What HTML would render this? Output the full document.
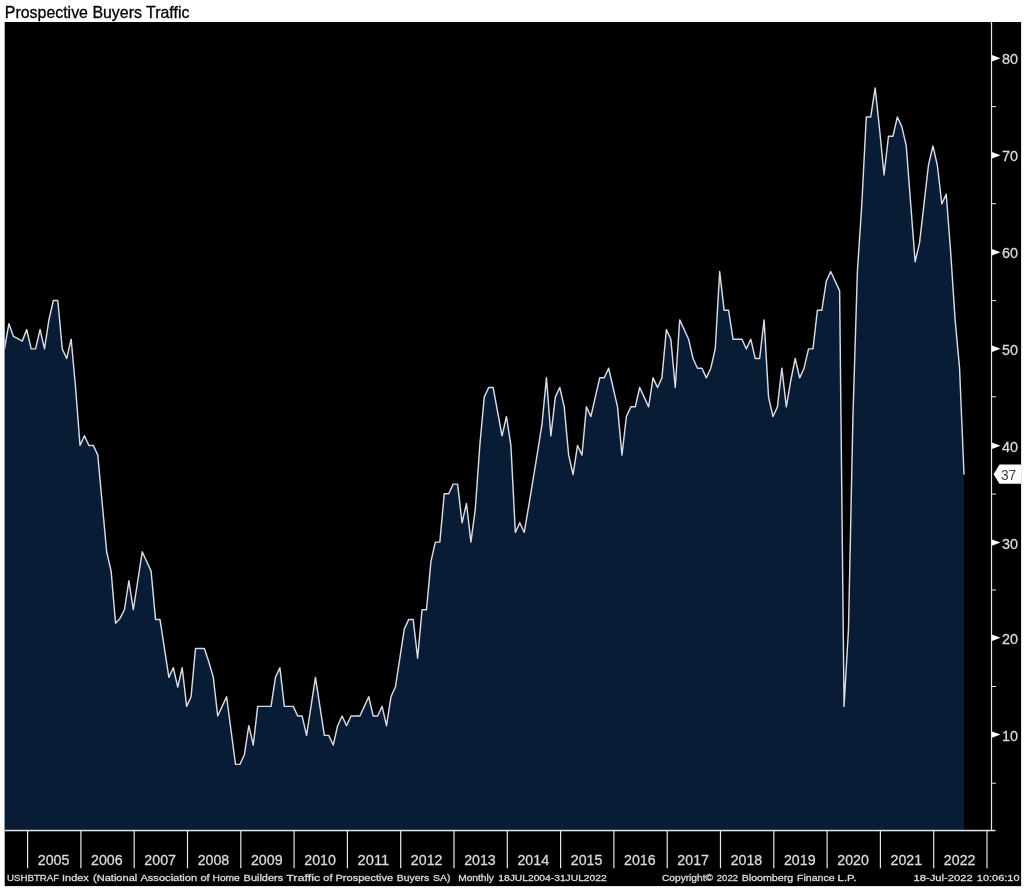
<!DOCTYPE html>
<html lang="en">
<head>
<meta charset="utf-8">
<title>Prospective Buyers Traffic</title>
<style>
html,body{margin:0;padding:0;background:#ffffff;}
body{width:1024px;height:888px;overflow:hidden;position:relative;}
svg text{font-family:"Liberation Sans","DejaVu Sans",sans-serif;}
svg{will-change:transform;}
</style>
</head>
<body>
<svg width="1024" height="888" viewBox="0 0 1024 888" style="display:block;position:absolute;left:0;top:0">
<rect x="0" y="0" width="1024" height="888" fill="#ffffff"/>
<rect x="4.7" y="22" width="1016.4" height="864.1" fill="#000000"/>
<clipPath id="plot"><rect x="4.7" y="22" width="990" height="810"/></clipPath>
<g clip-path="url(#plot)">
<path d="M4.50,348.85 L8.94,323.73 L13.38,336.29 L17.83,338.70 L22.27,341.12 L26.71,329.52 L31.15,348.85 L35.59,348.85 L40.04,329.52 L44.48,348.85 L48.92,319.86 L53.36,300.53 L57.81,300.53 L62.25,348.85 L66.69,358.51 L71.13,339.19 L75.57,387.50 L80.02,445.48 L84.46,435.82 L88.90,445.48 L93.34,445.48 L97.78,455.14 L102.23,503.46 L106.67,551.77 L111.11,571.10 L115.55,623.28 L120.00,618.45 L124.44,609.75 L128.88,580.76 L133.32,609.75 L137.76,580.76 L142.21,551.77 L146.65,561.44 L151.09,571.10 L155.53,619.41 L159.97,619.41 L164.42,648.40 L168.86,677.39 L173.30,667.73 L177.74,687.06 L182.19,667.73 L186.63,706.38 L191.07,696.72 L195.51,648.40 L199.95,648.40 L204.40,648.40 L208.84,661.93 L213.28,677.39 L217.72,716.04 L222.16,706.38 L226.61,696.72 L231.05,730.54 L235.49,764.36 L239.93,764.36 L244.38,754.70 L248.82,725.71 L253.26,745.03 L257.70,706.38 L262.14,706.38 L266.59,706.38 L271.03,706.38 L275.47,677.39 L279.91,667.73 L284.35,706.38 L288.80,706.38 L293.24,706.38 L297.68,716.04 L302.12,716.04 L306.56,735.37 L311.01,706.38 L315.45,677.39 L319.89,706.38 L324.33,735.37 L328.78,735.37 L333.22,745.03 L337.66,725.71 L342.10,716.04 L346.54,725.71 L350.99,716.04 L355.43,716.04 L359.87,716.04 L364.31,706.38 L368.75,696.72 L373.20,716.04 L377.64,716.04 L382.08,706.38 L386.52,725.71 L390.97,696.72 L395.41,687.06 L399.85,658.07 L404.29,629.08 L408.73,619.41 L413.18,619.41 L417.62,658.07 L422.06,609.75 L426.50,609.75 L430.94,561.44 L435.39,542.11 L439.83,542.11 L444.27,493.80 L448.71,493.80 L453.16,484.13 L457.60,484.13 L462.04,522.78 L466.48,503.46 L470.92,542.11 L475.37,508.29 L479.81,445.48 L484.25,397.16 L488.69,387.50 L493.13,387.50 L497.58,411.66 L502.02,435.82 L506.46,416.49 L510.90,445.48 L515.34,532.45 L519.79,522.78 L524.23,532.45 L528.67,506.36 L533.11,479.30 L537.56,452.24 L542.00,424.22 L546.44,377.84 L550.88,435.82 L555.32,397.16 L559.77,387.50 L564.21,406.83 L568.65,455.14 L573.09,474.47 L577.53,445.48 L581.98,455.14 L586.42,406.83 L590.86,416.49 L595.30,397.16 L599.75,377.84 L604.19,377.84 L608.63,368.18 L613.07,387.50 L617.51,406.83 L621.96,455.14 L626.40,416.49 L630.84,406.83 L635.28,406.83 L639.72,387.50 L644.17,397.16 L648.61,406.83 L653.05,377.84 L657.49,387.50 L661.94,377.84 L666.38,329.52 L670.82,339.19 L675.26,387.50 L679.70,319.86 L684.15,329.52 L688.59,339.19 L693.03,358.51 L697.47,368.18 L701.91,368.18 L706.36,377.84 L710.80,368.18 L715.24,348.85 L719.68,271.55 L724.12,310.20 L728.57,310.20 L733.01,339.19 L737.45,339.19 L741.89,339.19 L746.34,348.85 L750.78,339.19 L755.22,358.51 L759.66,358.51 L764.10,319.86 L768.55,397.16 L772.99,416.49 L777.43,406.83 L781.87,368.18 L786.31,406.83 L790.76,380.74 L795.20,358.51 L799.64,377.84 L804.08,368.18 L808.53,348.85 L812.97,348.85 L817.41,310.20 L821.85,310.20 L826.29,281.21 L830.74,271.55 L835.18,281.21 L839.62,290.87 L844.06,706.38 L848.50,629.08 L852.95,416.49 L857.39,271.55 L861.83,203.90 L866.27,116.94 L870.72,116.94 L875.16,87.95 L879.60,129.50 L884.04,174.92 L888.48,136.26 L892.93,136.26 L897.37,116.94 L901.81,126.60 L906.25,145.93 L910.69,203.90 L915.14,261.88 L919.58,242.56 L924.02,203.90 L928.46,165.25 L932.91,145.93 L937.35,165.25 L941.79,203.90 L946.23,194.24 L950.67,252.22 L955.12,319.86 L959.56,368.18 L964.00,474.47 L964.00,830.5 L4.50,830.5 Z" fill="#091c35" stroke="none"/>
<path d="M4.50,348.85 L8.94,323.73 L13.38,336.29 L17.83,338.70 L22.27,341.12 L26.71,329.52 L31.15,348.85 L35.59,348.85 L40.04,329.52 L44.48,348.85 L48.92,319.86 L53.36,300.53 L57.81,300.53 L62.25,348.85 L66.69,358.51 L71.13,339.19 L75.57,387.50 L80.02,445.48 L84.46,435.82 L88.90,445.48 L93.34,445.48 L97.78,455.14 L102.23,503.46 L106.67,551.77 L111.11,571.10 L115.55,623.28 L120.00,618.45 L124.44,609.75 L128.88,580.76 L133.32,609.75 L137.76,580.76 L142.21,551.77 L146.65,561.44 L151.09,571.10 L155.53,619.41 L159.97,619.41 L164.42,648.40 L168.86,677.39 L173.30,667.73 L177.74,687.06 L182.19,667.73 L186.63,706.38 L191.07,696.72 L195.51,648.40 L199.95,648.40 L204.40,648.40 L208.84,661.93 L213.28,677.39 L217.72,716.04 L222.16,706.38 L226.61,696.72 L231.05,730.54 L235.49,764.36 L239.93,764.36 L244.38,754.70 L248.82,725.71 L253.26,745.03 L257.70,706.38 L262.14,706.38 L266.59,706.38 L271.03,706.38 L275.47,677.39 L279.91,667.73 L284.35,706.38 L288.80,706.38 L293.24,706.38 L297.68,716.04 L302.12,716.04 L306.56,735.37 L311.01,706.38 L315.45,677.39 L319.89,706.38 L324.33,735.37 L328.78,735.37 L333.22,745.03 L337.66,725.71 L342.10,716.04 L346.54,725.71 L350.99,716.04 L355.43,716.04 L359.87,716.04 L364.31,706.38 L368.75,696.72 L373.20,716.04 L377.64,716.04 L382.08,706.38 L386.52,725.71 L390.97,696.72 L395.41,687.06 L399.85,658.07 L404.29,629.08 L408.73,619.41 L413.18,619.41 L417.62,658.07 L422.06,609.75 L426.50,609.75 L430.94,561.44 L435.39,542.11 L439.83,542.11 L444.27,493.80 L448.71,493.80 L453.16,484.13 L457.60,484.13 L462.04,522.78 L466.48,503.46 L470.92,542.11 L475.37,508.29 L479.81,445.48 L484.25,397.16 L488.69,387.50 L493.13,387.50 L497.58,411.66 L502.02,435.82 L506.46,416.49 L510.90,445.48 L515.34,532.45 L519.79,522.78 L524.23,532.45 L528.67,506.36 L533.11,479.30 L537.56,452.24 L542.00,424.22 L546.44,377.84 L550.88,435.82 L555.32,397.16 L559.77,387.50 L564.21,406.83 L568.65,455.14 L573.09,474.47 L577.53,445.48 L581.98,455.14 L586.42,406.83 L590.86,416.49 L595.30,397.16 L599.75,377.84 L604.19,377.84 L608.63,368.18 L613.07,387.50 L617.51,406.83 L621.96,455.14 L626.40,416.49 L630.84,406.83 L635.28,406.83 L639.72,387.50 L644.17,397.16 L648.61,406.83 L653.05,377.84 L657.49,387.50 L661.94,377.84 L666.38,329.52 L670.82,339.19 L675.26,387.50 L679.70,319.86 L684.15,329.52 L688.59,339.19 L693.03,358.51 L697.47,368.18 L701.91,368.18 L706.36,377.84 L710.80,368.18 L715.24,348.85 L719.68,271.55 L724.12,310.20 L728.57,310.20 L733.01,339.19 L737.45,339.19 L741.89,339.19 L746.34,348.85 L750.78,339.19 L755.22,358.51 L759.66,358.51 L764.10,319.86 L768.55,397.16 L772.99,416.49 L777.43,406.83 L781.87,368.18 L786.31,406.83 L790.76,380.74 L795.20,358.51 L799.64,377.84 L804.08,368.18 L808.53,348.85 L812.97,348.85 L817.41,310.20 L821.85,310.20 L826.29,281.21 L830.74,271.55 L835.18,281.21 L839.62,290.87 L844.06,706.38 L848.50,629.08 L852.95,416.49 L857.39,271.55 L861.83,203.90 L866.27,116.94 L870.72,116.94 L875.16,87.95 L879.60,129.50 L884.04,174.92 L888.48,136.26 L892.93,136.26 L897.37,116.94 L901.81,126.60 L906.25,145.93 L910.69,203.90 L915.14,261.88 L919.58,242.56 L924.02,203.90 L928.46,165.25 L932.91,145.93 L937.35,165.25 L941.79,203.90 L946.23,194.24 L950.67,252.22 L955.12,319.86 L959.56,368.18 L964.00,474.47" fill="none" stroke="#d6dae3" stroke-width="1.45" stroke-linejoin="round" stroke-linecap="butt"/>
</g>
<rect x="4.7" y="829.8" width="990.8" height="1.5" fill="#e6e6e6"/>
<rect x="990.9" y="22" width="1.2" height="809" fill="#e6e6e6"/>
<rect x="992" y="782.70" width="4" height="1" fill="#e6e6e6"/>
<path d="M992,731.40 L1000.5,734.60 L992,737.80 Z" fill="#ffffff"/>
<text x="1002" y="740.50" font-size="15" fill="#dadadd" stroke="#dadadd" stroke-width="0.3" textLength="16" lengthAdjust="spacingAndGlyphs">10</text>
<rect x="992" y="686.00" width="4" height="1" fill="#e6e6e6"/>
<path d="M992,634.60 L1000.5,637.80 L992,641.00 Z" fill="#ffffff"/>
<text x="1002" y="643.70" font-size="15" fill="#dadadd" stroke="#dadadd" stroke-width="0.3" textLength="16" lengthAdjust="spacingAndGlyphs">20</text>
<rect x="992" y="589.50" width="4" height="1" fill="#e6e6e6"/>
<path d="M992,539.40 L1000.5,542.60 L992,545.80 Z" fill="#ffffff"/>
<text x="1002" y="548.50" font-size="15" fill="#dadadd" stroke="#dadadd" stroke-width="0.3" textLength="16" lengthAdjust="spacingAndGlyphs">30</text>
<rect x="992" y="493.60" width="4" height="1" fill="#e6e6e6"/>
<path d="M992,442.60 L1000.5,445.80 L992,449.00 Z" fill="#ffffff"/>
<text x="1002" y="451.70" font-size="15" fill="#dadadd" stroke="#dadadd" stroke-width="0.3" textLength="16" lengthAdjust="spacingAndGlyphs">40</text>
<rect x="992" y="396.30" width="4" height="1" fill="#e6e6e6"/>
<path d="M992,345.55 L1000.5,348.75 L992,351.95 Z" fill="#ffffff"/>
<text x="1002" y="354.65" font-size="15" fill="#dadadd" stroke="#dadadd" stroke-width="0.3" textLength="16" lengthAdjust="spacingAndGlyphs">50</text>
<rect x="992" y="300.10" width="4" height="1" fill="#e6e6e6"/>
<path d="M992,249.10 L1000.5,252.30 L992,255.50 Z" fill="#ffffff"/>
<text x="1002" y="258.20" font-size="15" fill="#dadadd" stroke="#dadadd" stroke-width="0.3" textLength="16" lengthAdjust="spacingAndGlyphs">60</text>
<rect x="992" y="203.20" width="4" height="1" fill="#e6e6e6"/>
<path d="M992,152.10 L1000.5,155.30 L992,158.50 Z" fill="#ffffff"/>
<text x="1002" y="161.20" font-size="15" fill="#dadadd" stroke="#dadadd" stroke-width="0.3" textLength="16" lengthAdjust="spacingAndGlyphs">70</text>
<rect x="992" y="106.10" width="4" height="1" fill="#e6e6e6"/>
<path d="M992,55.10 L1000.5,58.30 L992,61.50 Z" fill="#ffffff"/>
<text x="1002" y="64.20" font-size="15" fill="#dadadd" stroke="#dadadd" stroke-width="0.3" textLength="16" lengthAdjust="spacingAndGlyphs">80</text>
<rect x="27.00" y="831" width="1.2" height="37.3" fill="#e6e6e6"/>
<text x="37.75" y="865.3" font-size="14.9" fill="#dadadd" stroke="#dadadd" stroke-width="0.3" textLength="31.6" lengthAdjust="spacingAndGlyphs">2005</text>
<rect x="80.30" y="831" width="1.2" height="37.3" fill="#e6e6e6"/>
<text x="91.05" y="865.3" font-size="14.9" fill="#dadadd" stroke="#dadadd" stroke-width="0.3" textLength="31.6" lengthAdjust="spacingAndGlyphs">2006</text>
<rect x="133.60" y="831" width="1.2" height="37.3" fill="#e6e6e6"/>
<text x="144.35" y="865.3" font-size="14.9" fill="#dadadd" stroke="#dadadd" stroke-width="0.3" textLength="31.6" lengthAdjust="spacingAndGlyphs">2007</text>
<rect x="186.90" y="831" width="1.2" height="37.3" fill="#e6e6e6"/>
<text x="197.65" y="865.3" font-size="14.9" fill="#dadadd" stroke="#dadadd" stroke-width="0.3" textLength="31.6" lengthAdjust="spacingAndGlyphs">2008</text>
<rect x="240.20" y="831" width="1.2" height="37.3" fill="#e6e6e6"/>
<text x="250.95" y="865.3" font-size="14.9" fill="#dadadd" stroke="#dadadd" stroke-width="0.3" textLength="31.6" lengthAdjust="spacingAndGlyphs">2009</text>
<rect x="293.50" y="831" width="1.2" height="37.3" fill="#e6e6e6"/>
<text x="304.25" y="865.3" font-size="14.9" fill="#dadadd" stroke="#dadadd" stroke-width="0.3" textLength="31.6" lengthAdjust="spacingAndGlyphs">2010</text>
<rect x="346.80" y="831" width="1.2" height="37.3" fill="#e6e6e6"/>
<text x="357.55" y="865.3" font-size="14.9" fill="#dadadd" stroke="#dadadd" stroke-width="0.3" textLength="31.6" lengthAdjust="spacingAndGlyphs">2011</text>
<rect x="400.10" y="831" width="1.2" height="37.3" fill="#e6e6e6"/>
<text x="410.85" y="865.3" font-size="14.9" fill="#dadadd" stroke="#dadadd" stroke-width="0.3" textLength="31.6" lengthAdjust="spacingAndGlyphs">2012</text>
<rect x="453.40" y="831" width="1.2" height="37.3" fill="#e6e6e6"/>
<text x="464.15" y="865.3" font-size="14.9" fill="#dadadd" stroke="#dadadd" stroke-width="0.3" textLength="31.6" lengthAdjust="spacingAndGlyphs">2013</text>
<rect x="506.70" y="831" width="1.2" height="37.3" fill="#e6e6e6"/>
<text x="517.45" y="865.3" font-size="14.9" fill="#dadadd" stroke="#dadadd" stroke-width="0.3" textLength="31.6" lengthAdjust="spacingAndGlyphs">2014</text>
<rect x="560.00" y="831" width="1.2" height="37.3" fill="#e6e6e6"/>
<text x="570.75" y="865.3" font-size="14.9" fill="#dadadd" stroke="#dadadd" stroke-width="0.3" textLength="31.6" lengthAdjust="spacingAndGlyphs">2015</text>
<rect x="613.30" y="831" width="1.2" height="37.3" fill="#e6e6e6"/>
<text x="624.05" y="865.3" font-size="14.9" fill="#dadadd" stroke="#dadadd" stroke-width="0.3" textLength="31.6" lengthAdjust="spacingAndGlyphs">2016</text>
<rect x="666.60" y="831" width="1.2" height="37.3" fill="#e6e6e6"/>
<text x="677.35" y="865.3" font-size="14.9" fill="#dadadd" stroke="#dadadd" stroke-width="0.3" textLength="31.6" lengthAdjust="spacingAndGlyphs">2017</text>
<rect x="719.90" y="831" width="1.2" height="37.3" fill="#e6e6e6"/>
<text x="730.65" y="865.3" font-size="14.9" fill="#dadadd" stroke="#dadadd" stroke-width="0.3" textLength="31.6" lengthAdjust="spacingAndGlyphs">2018</text>
<rect x="773.20" y="831" width="1.2" height="37.3" fill="#e6e6e6"/>
<text x="783.95" y="865.3" font-size="14.9" fill="#dadadd" stroke="#dadadd" stroke-width="0.3" textLength="31.6" lengthAdjust="spacingAndGlyphs">2019</text>
<rect x="826.50" y="831" width="1.2" height="37.3" fill="#e6e6e6"/>
<text x="837.25" y="865.3" font-size="14.9" fill="#dadadd" stroke="#dadadd" stroke-width="0.3" textLength="31.6" lengthAdjust="spacingAndGlyphs">2020</text>
<rect x="879.80" y="831" width="1.2" height="37.3" fill="#e6e6e6"/>
<text x="890.55" y="865.3" font-size="14.9" fill="#dadadd" stroke="#dadadd" stroke-width="0.3" textLength="31.6" lengthAdjust="spacingAndGlyphs">2021</text>
<rect x="933.10" y="831" width="1.2" height="37.3" fill="#e6e6e6"/>
<text x="943.85" y="865.3" font-size="14.9" fill="#dadadd" stroke="#dadadd" stroke-width="0.3" textLength="31.6" lengthAdjust="spacingAndGlyphs">2022</text>
<rect x="986.40" y="831" width="1.2" height="37.3" fill="#e6e6e6"/>
<path d="M993.5,474.17 L999.5,464.47 L1021,464.47 L1021,483.87 L999.5,483.87 Z" fill="#ffffff"/>
<text x="1001.0" y="479.77" font-size="15.4" fill="#3a3a3a" textLength="15.2" lengthAdjust="spacingAndGlyphs">37</text>
<g font-size="9.7" fill="#dcdcdc" stroke="#dcdcdc" stroke-width="0.3">
<text x="7.0" y="881.3" textLength="52.2" lengthAdjust="spacingAndGlyphs">USHBTRAF</text>
<text x="62.1" y="881.3" textLength="26.5" lengthAdjust="spacingAndGlyphs">Index</text>
<text x="93.0" y="881.3" textLength="44.3" lengthAdjust="spacingAndGlyphs">(National</text>
<text x="140.4" y="881.3" textLength="56.8" lengthAdjust="spacingAndGlyphs">Association</text>
<text x="200.5" y="881.3" textLength="9.2" lengthAdjust="spacingAndGlyphs">of</text>
<text x="212.5" y="881.3" textLength="27.3" lengthAdjust="spacingAndGlyphs">Home</text>
<text x="243.6" y="881.3" textLength="39.6" lengthAdjust="spacingAndGlyphs">Builders</text>
<text x="286.2" y="881.3" textLength="34.0" lengthAdjust="spacingAndGlyphs">Traffic</text>
<text x="323.3" y="881.3" textLength="9.2" lengthAdjust="spacingAndGlyphs">of</text>
<text x="335.5" y="881.3" textLength="57.6" lengthAdjust="spacingAndGlyphs">Prospective</text>
<text x="396.8" y="881.3" textLength="32.3" lengthAdjust="spacingAndGlyphs">Buyers</text>
<text x="432.9" y="881.3" textLength="17.5" lengthAdjust="spacingAndGlyphs">SA)</text>
<text x="458.2" y="881.3" textLength="35.7" lengthAdjust="spacingAndGlyphs">Monthly</text>
<text x="498.3" y="881.3" textLength="108.4" lengthAdjust="spacingAndGlyphs">18JUL2004-31JUL2022</text>
<text x="662.0" y="881.3" textLength="51.0" lengthAdjust="spacingAndGlyphs">Copyright©</text>
<text x="716.7" y="881.3" textLength="21.4" lengthAdjust="spacingAndGlyphs">2022</text>
<text x="741.7" y="881.3" textLength="51.5" lengthAdjust="spacingAndGlyphs">Bloomberg</text>
<text x="797.0" y="881.3" textLength="37.7" lengthAdjust="spacingAndGlyphs">Finance</text>
<text x="837.6" y="881.3" textLength="18.8" lengthAdjust="spacingAndGlyphs">L.P.</text>
<text x="913.6" y="881.3" textLength="59.1" lengthAdjust="spacingAndGlyphs">18-Jul-2022</text>
<text x="976.8" y="881.3" textLength="42.7" lengthAdjust="spacingAndGlyphs">10:06:10</text>
</g>
<text x="4.8" y="17.9" font-size="16.4" fill="#000000" stroke="#000000" stroke-width="0.3" textLength="184.6" lengthAdjust="spacingAndGlyphs">Prospective Buyers Traffic</text>
</svg>
</body>
</html>
